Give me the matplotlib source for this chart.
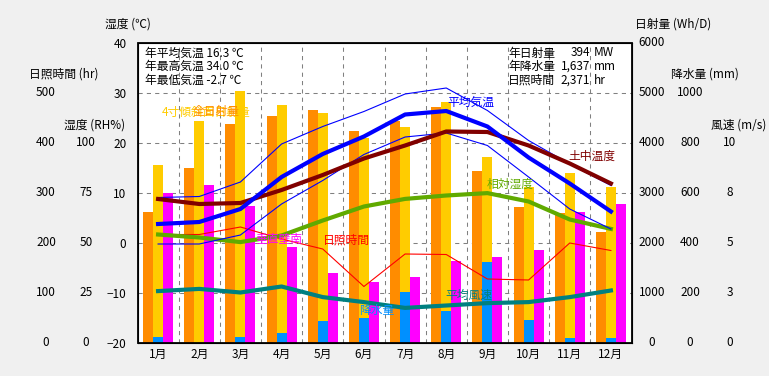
import matplotlib
matplotlib.use('Agg')
import matplotlib.pyplot as plt
import numpy as np
from matplotlib.patches import Rectangle

plt.rcParams['font.family'] = ['Noto Sans CJK JP', 'DejaVu Sans']

# monthly climate data
MONTHS = ['1月', '2月', '3月', '4月', '5月', '6月', '7月', '8月', '9月', '10月', '11月', '12月']
TEMP_AVG = [3.7, 4.1, 6.7, 13.1, 17.7, 21.2, 25.6, 26.3, 23.2, 17.0, 11.8, 6.2]
TEMP_MAX = [9.0, 9.2, 12.1, 19.7, 23.2, 26.2, 29.7, 30.9, 26.4, 20.4, 15.7, 11.4]
TEMP_MIN = [-0.3, -0.3, 1.5, 7.7, 12.4, 17.6, 21.1, 21.9, 19.4, 13.1, 6.7, 2.7]
SOIL_TEMP = [8.7, 7.7, 7.9, 10.5, 13.5, 16.8, 19.4, 22.2, 22.1, 19.4, 15.8, 11.8]
HUMIDITY = [54.0, 52.5, 50.2, 53.5, 61.0, 68.0, 71.8, 73.5, 74.7, 70.5, 61.5, 56.8]
SUNSHINE = [216, 216, 231, 207, 187, 112, 177, 176, 127, 125, 199, 184]
WIND = [2.57, 2.68, 2.50, 2.80, 2.27, 2.02, 1.73, 1.85, 1.97, 2.02, 2.27, 2.60]
SOLAR_GLOBAL = [2607, 3486, 4380, 4540, 4660, 4226, 4426, 4706, 3440, 2706, 2586, 2206]
SOLAR_TILT = [3560, 4426, 5040, 4760, 4600, 4100, 4320, 4806, 3706, 3120, 3386, 3106]
SOLAR_WALL = [2986, 3160, 2740, 1906, 1386, 1220, 1306, 1640, 1720, 1860, 2620, 2773]
PRECIP = [24, 0, 24, 37, 88, 97, 204, 128, 321, 92, 17, 17]

TEMP_TICKS = [-20, -10, 0, 10, 20, 30, 40]
SUN_TICKS = [0, 100, 200, 300, 400, 500]
HUM_TICKS = [0, 25, 50, 75, 100]
SOLAR_TICKS = [0, 1000, 2000, 3000, 4000, 5000, 6000]
PRECIP_TICKS = [0, 200, 400, 600, 800, 1000]
WIND_TICKS = [0, 2.5, 5, 7.5, 10]
WIND_TICK_LABELS = ['0', '3', '5', '8', '10']

STATS_LEFT = ['年平均気温 16.3 ℃', '年最高気温 34.0 ℃', '年最低気温 -2.7 ℃']
STATS_RIGHT = [('年日射量', '394', 'MW'), ('年降水量', '1,637', 'mm'), ('日照時間', '2,371', 'hr')]

W, H = 769, 376
L, R, T, B = 137.5, 631.5, 42.5, 342.5
FS = 8.5


def fx(px):
    return px / W


def fy(py):
    return 1 - py / H


fig = plt.figure(figsize=(W / 100, H / 100), dpi=100, facecolor='#F0F0F0')
ax = fig.add_axes([fx(L), fy(B), (R - L) / W, (B - T) / H])
ax.set_facecolor('white')
x = np.arange(12) + 0.5
bw = 0.243

ax.set_xlim(0, 12)
ax.set_ylim(-20, 40)
ax.set_yticks(TEMP_TICKS)
ax.set_xticks(x, MONTHS)
ax.tick_params(axis='y', length=0, pad=8, labelsize=FS)
ax.tick_params(axis='x', length=0, pad=4, labelsize=FS)
for v in [-10, 0, 10, 20, 30]:
    ax.axhline(v, color='#808080', lw=0.75, ls=(0, (4, 4)), zorder=0)
for v in range(1, 12):
    ax.axvline(v, color='#808080', lw=0.75, ls=(0, (4, 4)), zorder=0)


def twin(lo, hi):
    a = ax.twinx()
    a.set_ylim(lo, hi)
    a.set_xlim(0, 12)
    a.set_axis_off()
    return a


ax_sol = twin(0, 6000)
ax_sol.bar(x - bw, SOLAR_GLOBAL, width=bw, color='#FF8C00')
ax_sol.bar(x, SOLAR_TILT, width=bw, color='#FFCC00')
ax_sol.bar(x + bw, SOLAR_WALL, width=bw, color='#FF00FF')

ax_rain = twin(0, 1200)
ax_rain.bar(x, PRECIP, width=bw, color='#0090FF')

ax_sun = twin(0, 600)
ax_sun.plot(x, SUNSHINE, color='#FF0000', lw=0.8)

ax_hum = twin(0, 150)
ax_hum.plot(x, HUMIDITY, color='#60AA00', lw=3)

ax_wind = twin(0, 15)
ax_wind.plot(x, WIND, color='#008080', lw=3)

ax_t = twin(-20, 40)
ax_t.plot(x, TEMP_MAX, color='#0000FF', lw=0.8)
ax_t.plot(x, TEMP_MIN, color='#0000FF', lw=0.8)
ax_t.plot(x, SOIL_TEMP, color='#800000', lw=3)
ax_t.plot(x, TEMP_AVG, color='#0000FF', lw=3)
ax_t.add_patch(Rectangle((0, 0), 1, 1, transform=ax_t.transAxes, fill=False,
                         ec='black', lw=1.3, clip_on=False, zorder=10))

# extra scale columns
def column(a, ticks, labels, xpos):
    tr = a.get_yaxis_transform()
    for v, s in zip(ticks, labels):
        a.text(xpos, v, s, transform=tr, ha='center', va='center', fontsize=FS)


column(ax_sun, SUN_TICKS, [str(v) for v in SUN_TICKS], (46 - L) / (R - L))
column(ax_hum, HUM_TICKS, [str(v) for v in HUM_TICKS], (86 - L) / (R - L))
column(ax_sol, SOLAR_TICKS, [str(v) for v in SOLAR_TICKS], (652 - L) / (R - L))
column(ax_rain, PRECIP_TICKS, [str(v) for v in PRECIP_TICKS], (690 - L) / (R - L))
column(ax_wind, WIND_TICKS, WIND_TICK_LABELS, (730 - L) / (R - L))

for s, px, py in [('湿度 (℃)', 128, 24), ('日照時間 (hr)', 64, 74), ('湿度 (RH%)', 95, 125),
                  ('日射量 (Wh/D)', 673, 24), ('降水量 (mm)', 705, 74), ('風速 (m/s)', 739, 125)]:
    fig.text(fx(px), fy(py), s, ha='center', va='center', fontsize=FS)

# stats boxes
for i, s in enumerate(STATS_LEFT):
    fig.text(fx(145), fy(53 + 13.5 * i), s, ha='left', va='center', fontsize=FS)
for i, (a, b, c) in enumerate(STATS_RIGHT):
    yy = fy(53 + 13.5 * i)
    fig.text(fx(508), yy, a, ha='left', va='center', fontsize=FS)
    fig.text(fx(590), yy, b, ha='right', va='center', fontsize=FS)
    fig.text(fx(594), yy, c, ha='left', va='center', fontsize=FS)

# series labels (the two solar labels overlap in the original too)
for s, c, px, py in [('4寸傾斜面日射量', '#FFCC00', 162, 112), ('全日射量', '#FF8C00', 193, 112),
                     ('平均気温', '#0000FF', 447, 102), ('土中温度', '#800000', 568, 156),
                     ('相対湿度', '#60AA00', 487, 184), ('垂直壁南', '#FF00FF', 255, 240),
                     ('日照時間', '#FF0000', 323, 240), ('降水量', '#0090FF', 359, 310),
                     ('平均風速', '#008080', 445, 295)]:
    fig.text(fx(px), fy(py), s, color=c, ha='left', va='center', fontsize=FS, zorder=20)

fig.savefig('out.png', dpi=100, facecolor=fig.get_facecolor())
